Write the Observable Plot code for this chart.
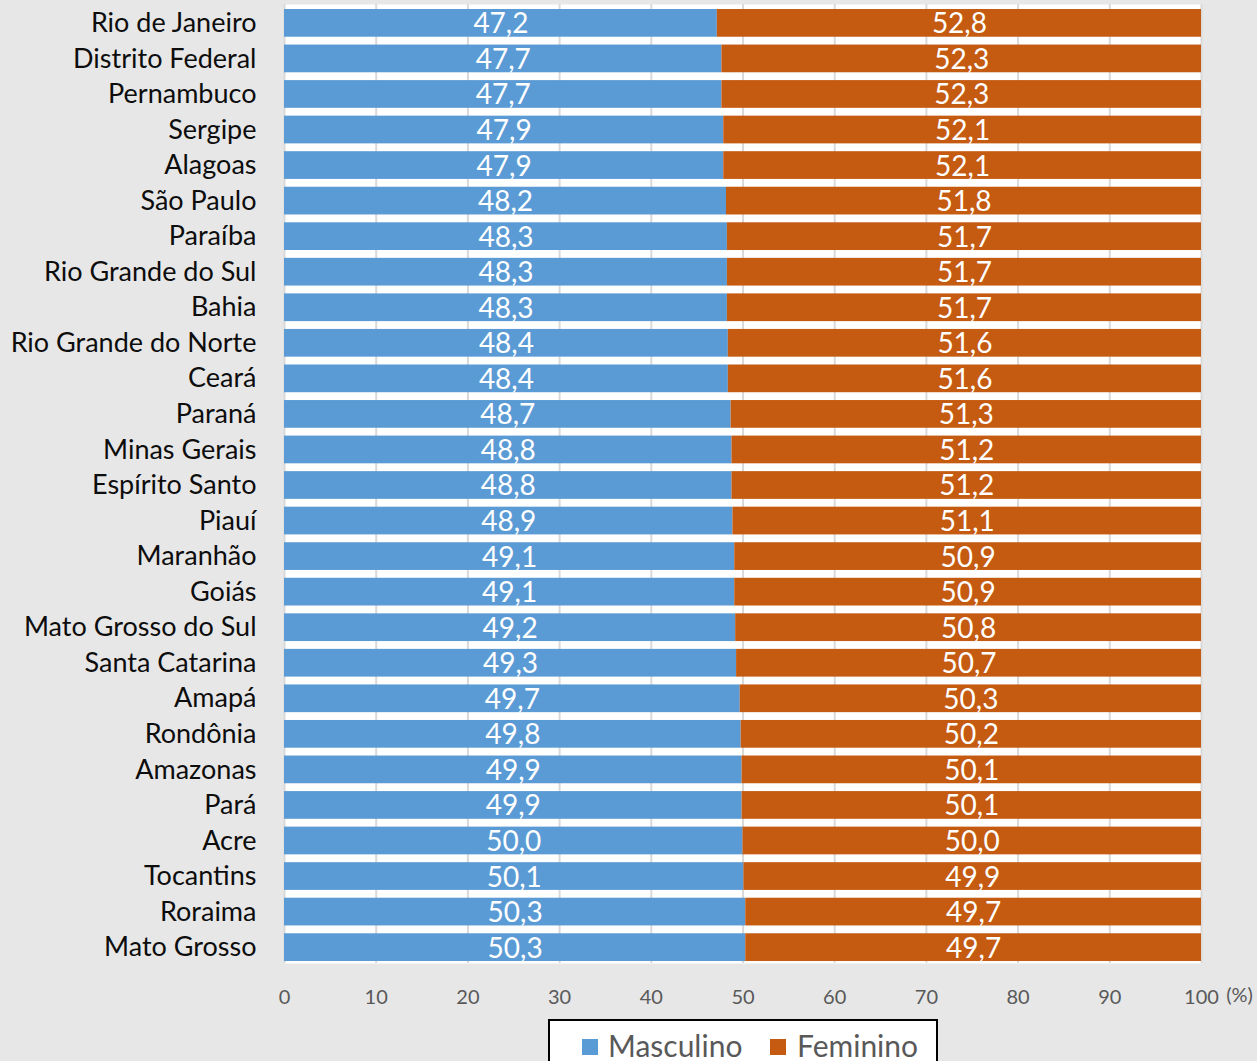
<!DOCTYPE html>
<html><head><meta charset="utf-8">
<script src="https://cdn.jsdelivr.net/npm/d3@7"></script>
<script src="https://cdn.jsdelivr.net/npm/@observablehq/plot@0.6"></script>
<style>
body{margin:0;background:#e7e7e7;font-family:Lato,sans-serif;overflow:hidden}
#wrap{position:relative;width:1257px;height:1061px}
#chart svg{display:block}
#legend{position:absolute;left:548px;top:1019px;width:390px;height:70px;border:2px solid #000;background:#fff;box-sizing:border-box}
#legend .sq{position:absolute;width:16px;height:16px;top:18px}
#legend .lb{position:absolute;top:6px;font-size:30px;line-height:36px;color:#595959}
</style>
</head><body>
<div id="wrap"><div id="chart"></div>
<div id="legend"></div></div>
<script>
const states = ["Rio de Janeiro","Distrito Federal","Pernambuco","Sergipe","Alagoas","São Paulo","Paraíba","Rio Grande do Sul","Bahia","Rio Grande do Norte","Ceará","Paraná","Minas Gerais","Espírito Santo","Piauí","Maranhão","Goiás","Mato Grosso do Sul","Santa Catarina","Amapá","Rondônia","Amazonas","Pará","Acre","Tocantins","Roraima","Mato Grosso"];
const masculino = [47.2,47.7,47.7,47.9,47.9,48.2,48.3,48.3,48.3,48.4,48.4,48.7,48.8,48.8,48.9,49.1,49.1,49.2,49.3,49.7,49.8,49.9,49.9,50.0,50.1,50.3,50.3];
const feminino = [52.8,52.3,52.3,52.1,52.1,51.8,51.7,51.7,51.7,51.6,51.6,51.3,51.2,51.2,51.1,50.9,50.9,50.8,50.7,50.3,50.2,50.1,50.1,50.0,49.9,49.7,49.7];
const series = ["Masculino","Feminino"];
const colors = ["#5b9bd5","#c55a11"];
const xTicks = [0,10,20,30,40,50,60,70,80,90,100];

const data = states.flatMap((s,i)=>[
  {state:s, sexo:"Masculino", value:masculino[i]},
  {state:s, sexo:"Feminino", value:feminino[i]}
]);
const fmt = v => v.toFixed(1).replace(".", ",");

const chart = Plot.plot({
  width:1257, height:1018,
  marginLeft:284, marginRight:56, marginTop:4, marginBottom:55,
  style:{background:"transparent", fontFamily:"Lato, sans-serif"},
  x:{domain:[0,100], axis:null},
  y:{domain:states, range:[9,961], paddingInner:0.22, paddingOuter:0, round:false, axis:null},
  color:{domain:series, range:colors},
  marks:[
    Plot.frame({fill:"white", stroke:null}),
    Plot.gridX(xTicks, {stroke:"#d9d9d9", strokeOpacity:1, strokeWidth:2}),
    Plot.barX(data, {y:"state", x:"value", fill:"sexo", order:series}),
    Plot.text(data, Plot.stackX({y:"state", x:"value", z:"sexo", order:series, text:d=>fmt(d.value), fill:"white", fontSize:28, dy:1})),
    Plot.axisX(xTicks, {tickSize:0, tickPadding:26, fontSize:20, fill:"#595959", tickFormat:d=>String(d), label:null}),
    Plot.text([100], {x:d=>d, frameAnchor:"bottom", lineAnchor:"middle", dy:32, dx:38, text:()=>"(%)", fontSize:20, fill:"#595959"}),
    Plot.axisY({tickSize:0, tickPadding:28, fontSize:27, fill:"#0d0d0d", label:null})
  ]
});
document.getElementById("chart").append(chart);

const lg = document.getElementById("legend");
const pos = [{sq:32, lb:58},{sq:220, lb:247}];
series.forEach((s,i)=>{
  const sq = document.createElement("div");
  sq.className="sq"; sq.style.left=pos[i].sq+"px"; sq.style.background=colors[i];
  const lb = document.createElement("div");
  lb.className="lb"; lb.style.left=pos[i].lb+"px"; lb.textContent=s;
  lg.append(sq, lb);
});
</script>
</body></html>
